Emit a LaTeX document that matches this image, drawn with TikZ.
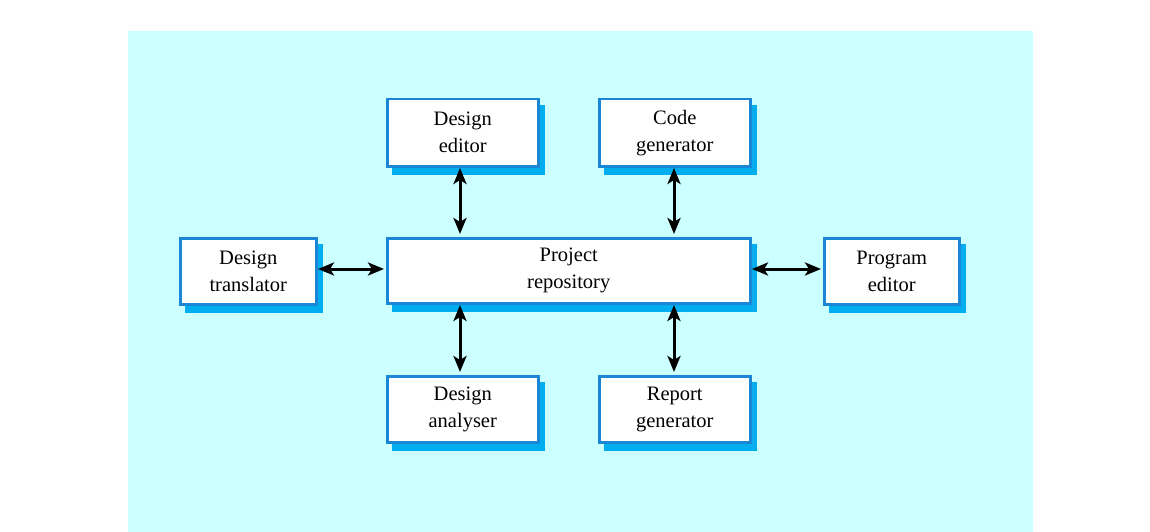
\documentclass[tikz,border=0pt]{standalone}
\usepackage{fontspec}
\setmainfont{Liberation Serif}
\usetikzlibrary{arrows.meta}
\definecolor{bgc}{HTML}{CCFFFF}
\definecolor{edge}{HTML}{1A86D6}
\definecolor{shad}{HTML}{00ADEF}
\tikzset{
  box/.style={draw=edge, line width=2.5pt, fill=white, align=center, inner sep=0pt,
    font=\fontsize{20.5}{27}\selectfont},
  shadowbox/.style={fill=shad, draw=none},
  link/.style={line width=3pt, {Stealth[length=16pt,width=13pt,inset=4pt]}-{Stealth[length=16pt,width=13pt,inset=4pt]}}
}
\newcommand{\mkbox}[6]{%
  \fill[shadowbox] (#2+7,#3+8) rectangle (#4+7,#5+9);
  \node[box, minimum width=#4-#2-2, minimum height=#5-#3-2, anchor=north west] (#1) at (#2+1,#3+1) {#6};
}
\begin{document}
\begin{tikzpicture}[x=1pt,y=-1pt]
\useasboundingbox (0,0) rectangle (1150,532);
\fill[white] (0,0) rectangle (1150,532);
\fill[bgc] (128,31) rectangle (1033,532);
\mkbox{de}{385}{97}{538}{166}{Design\\editor}
\mkbox{cg}{597}{97}{750}{166}{Code\\generator}
\mkbox{dt}{178}{236}{316}{304}{Design\\translator}
\mkbox{pr}{385}{236}{750}{303}{Project\\repository}
\mkbox{pe}{822}{236}{959}{304}{Program\\editor}
\mkbox{da}{385}{374}{538}{442}{Design\\analyser}
\mkbox{rg}{597}{374}{750}{442}{Report\\generator}
\coordinate (a1) at (460,168);
\coordinate (a2) at (460,234);
\draw[link] (a1) -- (a2);
\coordinate (b1) at (674,168);
\coordinate (b2) at (674,234);
\draw[link] (b1) -- (b2);
\coordinate (c1) at (460,305);
\coordinate (c2) at (460,372);
\draw[link] (c1) -- (c2);
\coordinate (d1) at (674,305);
\coordinate (d2) at (674,372);
\draw[link] (d1) -- (d2);
\coordinate (e1) at (318,269);
\coordinate (e2) at (384,269);
\draw[link] (e1) -- (e2);
\coordinate (f1) at (752,269);
\coordinate (f2) at (821,269);
\draw[link] (f1) -- (f2);
\end{tikzpicture}
\end{document}
